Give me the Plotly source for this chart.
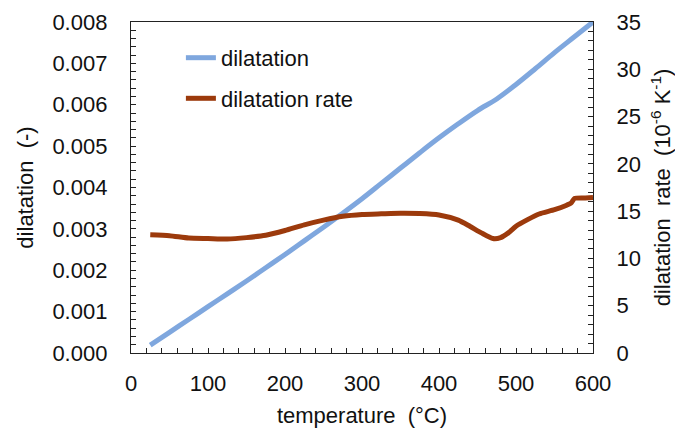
import plotly.graph_objects as go

# Data
temp_dil = [25, 50, 75, 100, 125, 150, 175, 200, 225, 250, 275, 300, 325, 350,
            375, 400, 425, 450, 475, 500, 525, 550, 575, 600]
dilatation = [0.00019, 0.00050, 0.00081, 0.00112, 0.00143, 0.00174, 0.00206,
              0.00238, 0.00271, 0.00304, 0.00338, 0.00373, 0.00410, 0.00447,
              0.00484, 0.00520, 0.00554, 0.00586, 0.00614, 0.00649, 0.00687,
              0.00726, 0.00763, 0.00800]

temp_rate = [25, 50, 75, 100, 125, 150, 175, 200, 225, 250, 275, 300, 325, 350,
             375, 400, 425, 440, 455, 470, 480, 490, 500, 515, 530, 550, 565,
             572, 576, 590, 600]
dilatation_rate = [12.5, 12.4, 12.15, 12.1, 12.05, 12.2, 12.45, 12.95, 13.55,
                   14.05, 14.45, 14.65, 14.72, 14.78, 14.75, 14.6, 14.05, 13.4,
                   12.7, 12.1, 12.2, 12.7, 13.4, 14.1, 14.7, 15.15, 15.6, 15.9,
                   16.35, 16.4, 16.45]

FONT = "Liberation Sans, Arial, sans-serif"
BLUE = "#7FA7DE"
BROWN = "#9C3A0C"

fig = go.Figure()
fig.add_trace(go.Scatter(x=temp_dil, y=dilatation, mode="lines", name="dilatation",
                         line=dict(color=BLUE, width=5, shape="spline"),
                         legendgroup="a"))
fig.add_trace(go.Scatter(x=temp_rate, y=dilatation_rate, mode="lines",
                         name="dilatation rate", yaxis="y2",
                         line=dict(color=BROWN, width=5, shape="spline", smoothing=0.6),
                         legendgroup="b"))

axis_common = dict(
    showline=True, linecolor="#222222", linewidth=1.3,
    ticks="inside", ticklen=5, tickwidth=1.3, tickcolor="#222222",
    showgrid=False, zeroline=False, automargin=False,
    tickfont=dict(family=FONT, size=22, color="#111111"),
)

fig.update_layout(
    width=675, height=428,
    margin=dict(l=131, r=82, t=22, b=75, autoexpand=False),
    paper_bgcolor="white", plot_bgcolor="white",
    font=dict(family=FONT, size=22, color="#111111"),
    xaxis=dict(range=[0, 600], dtick=100, mirror=True,
               minor=dict(ticks="inside", dtick=20, ticklen=5, tickwidth=1.3,
                          tickcolor="#222222"),
               ticklabelstandoff=10,
               title=dict(text="temperature  (°C)", standoff=21,
                          font=dict(family=FONT, size=22, color="#111111")),
               **axis_common),
    yaxis=dict(range=[0, 0.008], dtick=0.001, tickformat=".3f",
               minor=dict(ticks="inside", dtick=0.0002, ticklen=5, tickwidth=1.3,
                          tickcolor="#222222"),
               ticklabelstandoff=18,
               title=dict(text="dilatation  (-)", standoff=12,
                          font=dict(family=FONT, size=22, color="#111111")),
               **axis_common),
    yaxis2=dict(range=[0, 35], dtick=5, overlaying="y", side="right",
                minor=dict(ticks="inside", dtick=1, ticklen=5, tickwidth=1.3,
                           tickcolor="#222222"),
                ticklabelstandoff=18,
                title=dict(text="dilatation  rate  (10<sup>-6</sup> K<sup>-1</sup>)",
                           standoff=23,
                           font=dict(family=FONT, size=22, color="#111111")),
                **axis_common),
    legend=dict(x=0.108, y=0.955, xanchor="left", yanchor="top",
                bgcolor="rgba(0,0,0,0)", borderwidth=0,
                traceorder="grouped", tracegroupgap=9,
                font=dict(family=FONT, size=22, color="#111111")),
    showlegend=True,
)

fig.write_html("out.html")
